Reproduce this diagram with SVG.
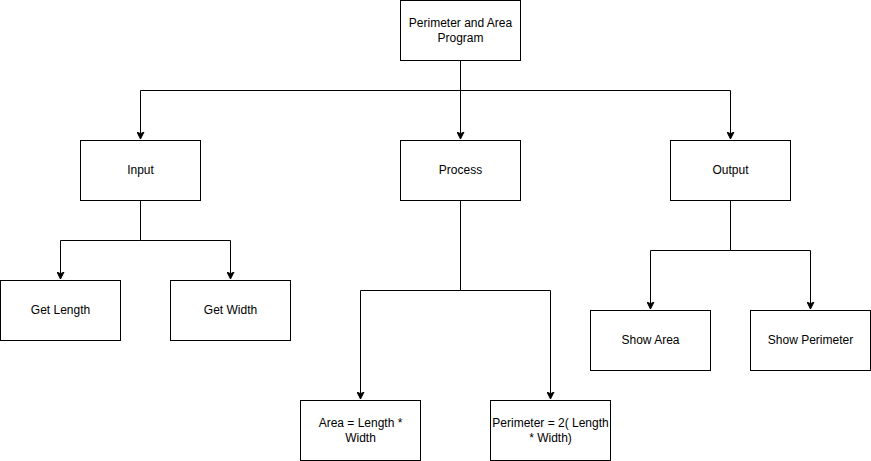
<svg xmlns="http://www.w3.org/2000/svg" width="871" height="461" viewBox="0 0 871 461">
<style>
.box{fill:#fff;stroke:#000;stroke-width:1}
.lbl{font-family:"Liberation Sans",Arial,Helvetica,sans-serif;font-size:12px;fill:#000;text-anchor:middle}
.edge{fill:none;stroke:#000;stroke-width:1}
</style>
<defs>
<marker id="arr" markerWidth="8" markerHeight="8" viewBox="0 0 8 8" refX="7" refY="4" orient="auto" markerUnits="userSpaceOnUse">
<path d="M0,0.5 L7,4 L0,7.5 L1.75,4 Z" fill="#000" stroke="#000" stroke-width="1"/>
</marker>
</defs>
<rect width="871" height="461" fill="#fff"/>
<g id="connectors">
<path class="edge" d="M460.5,60.5 V90.5 H140.5 V139" marker-end="url(#arr)"/>
<path class="edge" d="M460.5,60.5 V139" marker-end="url(#arr)"/>
<path class="edge" d="M460.5,60.5 V90.5 H730.5 V139" marker-end="url(#arr)"/>
<path class="edge" d="M140.5,200.5 V240.5 H60.5 V279" marker-end="url(#arr)"/>
<path class="edge" d="M140.5,200.5 V240.5 H230.5 V279" marker-end="url(#arr)"/>
<path class="edge" d="M460.5,200.5 V290.5 H360.5 V399" marker-end="url(#arr)"/>
<path class="edge" d="M460.5,200.5 V290.5 H550.5 V399" marker-end="url(#arr)"/>
<path class="edge" d="M730.5,200.5 V250.5 H650.5 V309" marker-end="url(#arr)"/>
<path class="edge" d="M730.5,200.5 V250.5 H810.5 V309" marker-end="url(#arr)"/>
</g>
<g id="program"><rect class="box" x="400.5" y="0.5" width="120" height="60"/><text class="lbl" x="460.5" y="26.5">Perimeter and Area</text><text class="lbl" x="460.5" y="41.5">Program</text></g>
<g id="input"><rect class="box" x="80.5" y="140.5" width="120" height="60"/><text class="lbl" x="140.5" y="174">Input</text></g>
<g id="process"><rect class="box" x="400.5" y="140.5" width="120" height="60"/><text class="lbl" x="460.5" y="174">Process</text></g>
<g id="output"><rect class="box" x="670.5" y="140.5" width="120" height="60"/><text class="lbl" x="730.5" y="174">Output</text></g>
<g id="getlength"><rect class="box" x="0.5" y="280.5" width="120" height="60"/><text class="lbl" x="60.5" y="314">Get Length</text></g>
<g id="getwidth"><rect class="box" x="170.5" y="280.5" width="120" height="60"/><text class="lbl" x="230.5" y="314">Get Width</text></g>
<g id="area"><rect class="box" x="300.5" y="400.5" width="120" height="60"/><text class="lbl" x="360.5" y="426.5">Area = Length *</text><text class="lbl" x="360.5" y="441.5">Width</text></g>
<g id="perimeter"><rect class="box" x="490.5" y="400.5" width="120" height="60"/><text class="lbl" x="550.5" y="426.5">Perimeter = 2( Length</text><text class="lbl" x="550.5" y="441.5">* Width)</text></g>
<g id="showarea"><rect class="box" x="590.5" y="310.5" width="120" height="60"/><text class="lbl" x="650.5" y="344">Show Area</text></g>
<g id="showperimeter"><rect class="box" x="750.5" y="310.5" width="120" height="60"/><text class="lbl" x="810.5" y="344">Show Perimeter</text></g>
</svg>
